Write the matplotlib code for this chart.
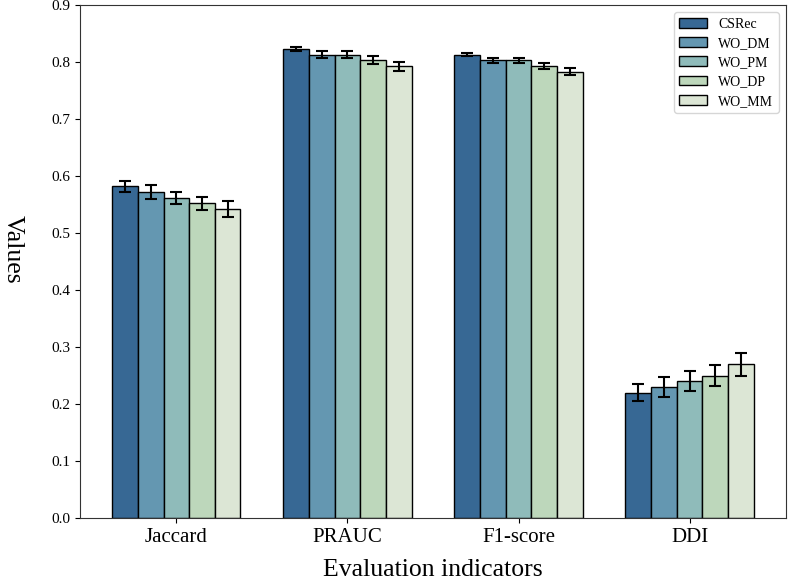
import numpy as np
import matplotlib
matplotlib.use("Agg")
import matplotlib.pyplot as plt

plt.rcParams['font.family'] = ['Liberation Serif', 'DejaVu Serif']

# Dane
metrics = ['Jaccard', 'PRAUC', 'F1-score', 'DDI']
models = ['CSRec', 'WO_DM', 'WO_PM', 'WO_DP', 'WO_MM']
colors = ['#376894', '#6497b1', '#8fbbba', '#bdd7bb', '#dce6d5']

values_csrec = [0.582, 0.823, 0.813, 0.220]
values_wo_dm = [0.572, 0.813, 0.803, 0.230]
values_wo_pm = [0.562, 0.813, 0.803, 0.240]
values_wo_dp = [0.552, 0.803, 0.793, 0.250]
values_wo_mm = [0.542, 0.793, 0.783, 0.270]

err_csrec = [0.010, 0.004, 0.003, 0.015]
err_wo_dm = [0.012, 0.006, 0.004, 0.018]
err_wo_pm = [0.011, 0.006, 0.004, 0.018]
err_wo_dp = [0.012, 0.007, 0.005, 0.019]
err_wo_mm = [0.014, 0.008, 0.006, 0.020]

all_values = [values_csrec, values_wo_dm, values_wo_pm, values_wo_dp, values_wo_mm]
all_errors = [err_csrec, err_wo_dm, err_wo_pm, err_wo_dp, err_wo_mm]

fig = plt.figure(figsize=(7.93, 5.80), dpi=100)
ax = fig.add_axes([0.101, 0.107, 0.890, 0.884])

x = np.arange(len(metrics))
width = 0.15
for i, (name, vals, errs, col) in enumerate(zip(models, all_values, all_errors, colors)):
    ax.bar(x + (i - 2) * width, vals, width, yerr=errs, label=name, color=col,
           edgecolor='black', linewidth=1.0, capsize=4,
           error_kw=dict(elinewidth=1.5, capthick=1.5, ecolor='black'))

ax.set_ylim(0, 0.9)
ax.set_yticks(np.arange(0, 0.91, 0.1))
ax.set_yticklabels([f"{v:.1f}" for v in np.arange(0, 0.91, 0.1)], fontsize=11)
ax.set_xticks(x)
ax.set_xticklabels(metrics, fontsize=15)
ax.set_xlabel('Evaluation indicators', fontsize=18.5, labelpad=9)
# os Y - etykieta obrocona jak w oryginale
fig.text(0.016, 0.57, 'Values', fontsize=18.5, rotation=270, ha='center', va='center')

for sp in ax.spines.values():
    sp.set_color('#333333')

ax.legend(loc='upper right', fontsize=10, frameon=True, handlelength=2.0,
          labelspacing=0.45, borderaxespad=0.5)

fig.savefig('out.png', dpi=100)
